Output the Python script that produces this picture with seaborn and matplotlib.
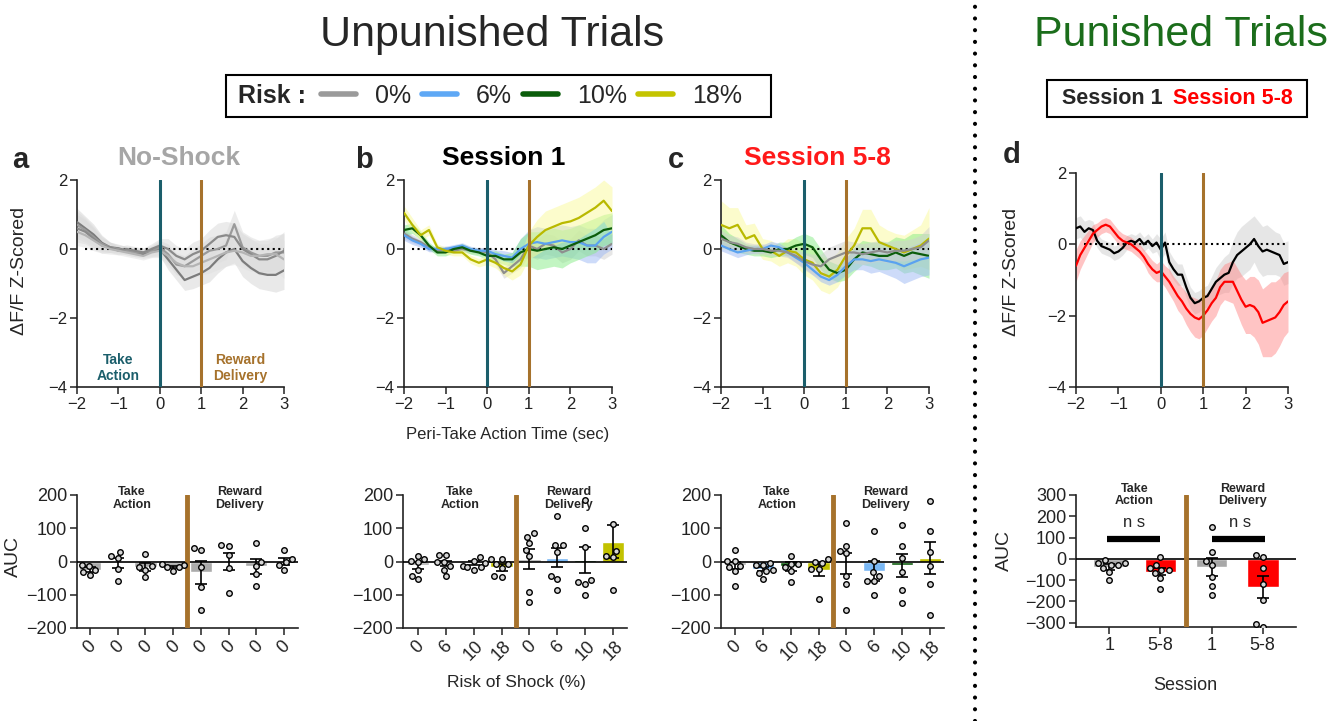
import numpy as np
import pandas as pd
import seaborn as sns
import matplotlib
matplotlib.use("Agg")
import matplotlib.pyplot as plt
from matplotlib.patches import Rectangle
from matplotlib.lines import Line2D

sns.set_theme(style="ticks")
plt.rcParams['font.family'] = ['Liberation Sans', 'DejaVu Sans']
plt.rcParams['axes.linewidth'] = 1.2
plt.rcParams['axes.edgecolor'] = '#222222'

W, H = 1344, 721
TEAL = '#1b5e6b'
BROWN = '#a6722c'

# ---------- peri-event traces (mean, sem) ----------
t_abc = np.round(np.linspace(-2, 3, 26), 2)   # 0.2 s bins
t_d = np.round(np.linspace(-2, 3, 51), 2)     # 0.1 s bins

# panel a: no-shock sessions (4 gray traces)
a_tr1 = [0.78, 0.6, 0.42, 0.18, 0.05, 0.02, -0.05, -0.1, -0.15, -0.08, 0.0, -0.3, -0.6, -0.9, -0.8, -0.7,
         -0.55, -0.3, -0.1, 0.0, -0.35, -0.55, -0.7, -0.75, -0.75, -0.62]
a_tr2 = [0.7, 0.55, 0.35, 0.15, 0.05, 0.0, -0.05, -0.1, -0.1, -0.05, 0.05, -0.15, -0.45, -0.5, -0.35, -0.2,
         -0.05, 0.0, 0.1, 0.72, 0.05, -0.1, -0.2, -0.2, -0.1, -0.1]
a_tr3 = [0.6, 0.5, 0.3, 0.1, 0.05, -0.05, 0.0, -0.05, -0.1, 0.0, 0.1, 0.0, -0.2, -0.3, -0.15, -0.05,
         0.15, 0.35, 0.4, 0.35, 0.0, -0.15, -0.3, -0.3, -0.2, -0.05]
a_tr4 = [0.5, 0.4, 0.25, 0.1, 0.0, -0.05, -0.1, -0.15, -0.2, -0.1, -0.05, -0.2, -0.4, -0.5, -0.5, -0.4,
         -0.3, -0.2, -0.1, -0.05, -0.1, -0.2, -0.2, -0.15, -0.15, -0.3]
a_sem = [0.4, 0.35, 0.3, 0.22, 0.15, 0.12, 0.12, 0.12, 0.12, 0.15, 0.2, 0.3, 0.3, 0.3, 0.35, 0.35,
         0.4, 0.4, 0.4, 0.4, 0.45, 0.45, 0.45, 0.45, 0.5, 0.55]

# panel b: session 1
b_gray = [0.45, 0.3, 0.2, 0.05, -0.05, 0.0, -0.05, 0.0, -0.05, -0.05, -0.1, -0.3, -0.7, -0.5, -0.3, 0.1,
          0.0, 0.15, 0.1, -0.1, 0.0, 0.25, 0.1, 0.1, 0.0, 0.15]
b_gray_sem = [0.15, 0.12, 0.1, 0.1, 0.08, 0.08, 0.08, 0.08, 0.08, 0.1, 0.12, 0.15, 0.15, 0.2, 0.25, 0.3,
              0.3, 0.3, 0.3, 0.3, 0.3, 0.3, 0.3, 0.3, 0.3, 0.3]
b_blue = [0.4, 0.25, 0.15, 0.0, 0.0, 0.0, 0.05, 0.1, 0.0, -0.05, -0.05, -0.15, -0.2, -0.25, 0.0, 0.15,
          0.2, 0.15, 0.2, 0.25, 0.2, 0.2, 0.1, 0.1, 0.35, 0.5]
b_blue_sem = [0.15, 0.12, 0.1, 0.08, 0.08, 0.08, 0.08, 0.08, 0.08, 0.08, 0.1, 0.12, 0.15, 0.15, 0.3, 0.4,
              0.45, 0.45, 0.45, 0.45, 0.45, 0.5, 0.5, 0.5, 0.5, 0.5]
b_green = [0.55, 0.6, 0.4, 0.1, -0.1, -0.1, 0.0, 0.05, -0.05, -0.1, -0.2, -0.2, -0.3, -0.3, -0.1, 0.0,
           -0.05, 0.0, 0.05, 0.0, 0.1, 0.2, 0.3, 0.4, 0.55, 0.6]
b_green_sem = [0.15, 0.15, 0.12, 0.1, 0.1, 0.1, 0.1, 0.1, 0.1, 0.1, 0.12, 0.15, 0.15, 0.2, 0.4, 0.5,
               0.55, 0.55, 0.55, 0.55, 0.5, 0.5, 0.5, 0.5, 0.45, 0.45]
b_yellow = [1.05, 0.7, 0.4, 0.55, 0.05, -0.05, -0.1, -0.1, -0.3, -0.4, -0.3, -0.4, -0.55, -0.65, -0.45, 0.1,
            0.35, 0.55, 0.65, 0.75, 0.8, 0.9, 1.05, 1.2, 1.4, 1.1]
b_yellow_sem = [0.2, 0.2, 0.15, 0.15, 0.1, 0.1, 0.1, 0.1, 0.12, 0.12, 0.15, 0.15, 0.2, 0.25, 0.3, 0.4,
                0.5, 0.55, 0.55, 0.55, 0.6, 0.6, 0.6, 0.6, 0.6, 0.7]

# panel c: sessions 5-8
c_gray = [0.3, 0.2, 0.15, 0.05, 0.0, 0.0, -0.05, -0.05, -0.1, -0.2, -0.35, -0.45, -0.5, -0.3, -0.2, -0.1,
          -0.1, -0.15, -0.1, -0.05, -0.1, -0.05, -0.05, 0.0, 0.05, 0.25]
c_gray_sem = [0.25, 0.2, 0.2, 0.15, 0.15, 0.15, 0.15, 0.15, 0.15, 0.2, 0.25, 0.3, 0.35, 0.35, 0.35, 0.35,
              0.3, 0.3, 0.3, 0.3, 0.3, 0.3, 0.3, 0.3, 0.35, 0.4]
c_blue = [0.1, 0.0, -0.1, -0.05, 0.0, 0.0, 0.1, 0.05, -0.1, -0.25, -0.4, -0.6, -0.8, -0.9, -0.75, -0.5,
          -0.3, -0.3, -0.35, -0.3, -0.35, -0.4, -0.5, -0.4, -0.3, -0.25]
c_blue_sem = [0.15, 0.15, 0.15, 0.12, 0.12, 0.12, 0.12, 0.12, 0.12, 0.15, 0.15, 0.15, 0.15, 0.15, 0.2, 0.25,
              0.3, 0.3, 0.35, 0.35, 0.4, 0.45, 0.5, 0.5, 0.5, 0.5]
c_green = [0.4, 0.2, 0.1, 0.0, -0.05, -0.05, -0.1, 0.0, 0.0, 0.1, 0.15, 0.05, -0.3, -0.6, -0.7, -0.6,
           -0.3, -0.1, -0.15, -0.2, -0.2, -0.1, -0.2, -0.1, -0.15, -0.2]
c_green_sem = [0.3, 0.25, 0.2, 0.15, 0.15, 0.15, 0.15, 0.2, 0.2, 0.25, 0.3, 0.3, 0.3, 0.25, 0.25, 0.3,
               0.35, 0.35, 0.35, 0.4, 0.4, 0.45, 0.5, 0.55, 0.6, 0.65]
c_yellow = [0.7, 0.6, 0.7, 0.3, 0.4, 0.0, -0.05, -0.2, -0.05, -0.1, -0.3, -0.4, -0.7, -0.8, -0.6, -0.2,
            0.1, 0.6, 0.6, 0.2, 0.1, 0.0, -0.1, 0.0, 0.1, 0.3]
c_yellow_sem = [0.7, 0.6, 0.5, 0.4, 0.35, 0.3, 0.3, 0.3, 0.35, 0.4, 0.45, 0.5, 0.5, 0.5, 0.5, 0.5,
                0.5, 0.55, 0.55, 0.5, 0.45, 0.45, 0.5, 0.55, 0.6, 0.9]

# panel d: punished trials
d_black = [0.45, 0.5, 0.35, 0.45, 0.4, 0.1, -0.05, -0.1, -0.15, -0.25,
           -0.2, -0.1, 0.05, 0.1, 0.05, 0.15, 0.0, 0.1, -0.05, 0.05,
           -0.15, 0.05, -0.5, -0.7, -0.85, -0.85, -1.2, -1.5, -1.65, -1.6,
           -1.5, -1.45, -1.25, -1.05, -0.95, -0.85, -0.8, -0.5, -0.3, -0.2,
           -0.1, 0.0, 0.15, -0.05, -0.2, -0.15, -0.2, -0.25, -0.3, -0.55, -0.5]
d_black_sem = [0.3, 0.3, 0.3, 0.25, 0.25, 0.2, 0.2, 0.2, 0.2, 0.2,
               0.2, 0.2, 0.2, 0.2, 0.2, 0.2, 0.2, 0.2, 0.2, 0.25,
               0.3, 0.3, 0.3, 0.3, 0.3, 0.3, 0.3, 0.3, 0.3, 0.3,
               0.3, 0.3, 0.35, 0.4, 0.45, 0.5, 0.55, 0.6, 0.65, 0.7,
               0.7, 0.7, 0.65, 0.7, 0.7, 0.7, 0.65, 0.6, 0.6, 0.6, 0.6]
d_red = [-0.6, -0.3, -0.1, 0.1, 0.3, 0.4, 0.5, 0.55, 0.5, 0.35,
         0.2, 0.1, 0.05, 0.0, -0.1, -0.2, -0.35, -0.55, -0.7, -0.8,
         -0.75, -0.9, -1.05, -1.25, -1.45, -1.6, -1.8, -1.95, -2.05, -2.1,
         -2.0, -1.85, -1.65, -1.5, -1.2, -1.05, -1.05, -1.05, -1.3, -1.55,
         -1.75, -1.7, -1.75, -1.9, -2.2, -2.15, -2.1, -2.05, -1.9, -1.7, -1.6]
d_red_sem = [0.45, 0.4, 0.35, 0.3, 0.25, 0.2, 0.2, 0.2, 0.2, 0.2,
             0.2, 0.2, 0.2, 0.2, 0.2, 0.2, 0.2, 0.25, 0.25, 0.25,
             0.3, 0.3, 0.35, 0.35, 0.4, 0.4, 0.45, 0.5, 0.55, 0.55,
             0.55, 0.5, 0.5, 0.5, 0.5, 0.5, 0.55, 0.6, 0.65, 0.7,
             0.75, 0.8, 0.85, 0.9, 0.95, 1.0, 1.05, 1.0, 0.95, 0.9, 0.85]

# ---------- AUC bar data ----------
abc_ids_a = ['TA-1', 'TA-2', 'TA-3', 'TA-4', 'RD-1', 'RD-2', 'RD-3', 'RD-4']
abc_ids = ['TA-0', 'TA-6', 'TA-10', 'TA-18', 'RD-0', 'RD-6', 'RD-10', 'RD-18']
a_labels = ['0'] * 8
bc_labels = ['0', '6', '10', '18', '0', '6', '10', '18']

a_means = [-25, -5, -17, -17, -33, 0, -15, 0]
a_sems = [7, 16, 12, 4, 36, 26, 22, 10]
a_points = [[-10, -40, -25, -13, -33], [30, 10, 17, -22, -58], [22, -25, -15, -18, -47],
            [-12, -28, -8, -18, -17], [35, 42, -18, -78, -145], [47, 50, 20, -20, -95],
            [57, 0, -15, -38, -75], [35, 7, -10, -3, -25]]

b_means = [-12, -5, -5, -18, 7, 12, 5, 60]
b_sems = [12, 8, 6, 10, 31, 28, 40, 50]
b_points = [[-3, 7, 18, 3, -27, -43, -53], [20, 20, -2, -2, -15, -25, -45], [15, 3, -5, -13, -17, -17, -25],
            [7, 7, -8, -20, -8, -47, -43], [75, 85, 55, 35, 17, -93, -123], [137, 50, 50, 30, -53, -43, -85],
            [185, 100, 43, -67, -55, -63, -100], [112, 32, 13, 18, -87]]

c_means = [-12, -22, -15, -27, -5, -28, -12, 10]
c_sems = [10, 6, 14, 18, 32, 30, 35, 49]
c_points = [[35, 3, 3, -13, -17, -28, -75], [-5, -10, -10, -25, -35, -30, -52], [18, -18, -8, -8, -30, -62],
            [8, -5, -3, -22, -23, -112], [115, 47, 25, 33, -45, -67, -147], [93, 3, -45, -33, -60, -60, -100],
            [110, 48, 10, -32, -87, -125], [183, 92, 30, -13, -67, -160]]

d_ids = ['TA-s1', 'TA-s58', 'RD-s1', 'RD-s58']
d_labels = ['1', '5-8', '1', '5-8']
d_means = [-38, -60, -38, -133]
d_sems = [12, 16, 44, 53]
d_points = [[-5, -19, -19, -28, -28, -44, -60, -99], [11, -28, -45, -50, -50, -89, -67, -143],
            [152, 31, -27, -8, -86, -129, -170], [11, 16, -44, -118, -193, -318, -306]]

risk_names = ['0%', '6%', '10%', '18%']
risk_line = ['#8e8e8e', '#5aa2f0', '#0b5d0b', '#b9b900']
risk_band = ['#cfcfcf', '#9cb8f5', '#86ec86', '#fafa9a']
risk_bar = ['#b0b0b0', '#7ab8f5', '#0d5e0d', '#c2c200'] * 2


def px_rect(l, t, r, b):
    return [l / W, 1 - b / H, (r - l) / W, (b - t) / H]


def style_ax(ax, tick_size):
    ax.spines[['top', 'right']].set_visible(False)
    ax.tick_params(direction='out', length=5, width=1.1, colors='#222222', labelsize=tick_size, pad=2)


def trace_panel(ax, time, traces):
    rows = []
    for name, mean, sem, lc, bc in traces:
        m, s = np.array(mean), np.array(sem)
        ax.fill_between(time, m - s, m + s, color=bc, alpha=0.5, lw=0, zorder=1)
        rows.append(pd.DataFrame({'time': time, 'dff': m, 'trace': name}))
    df = pd.concat(rows)
    pal = {tr[0]: tr[3] for tr in traces}
    sns.lineplot(data=df, x='time', y='dff', hue='trace', palette=pal, linewidth=1.6,
                 legend=False, errorbar=None, ax=ax, zorder=3)
    ax.plot([-1.8, 3], [0, 0], ls=':', color='black', lw=1.5, zorder=2)
    ax.axvline(0, color=TEAL, lw=2.2, zorder=4)
    ax.axvline(1, color=BROWN, lw=2.2, zorder=4)
    ax.set(xlim=(-2, 3), ylim=(-4, 2), xticks=range(-2, 4), yticks=[-4, -2, 0, 2], xlabel='', ylabel='')
    style_ax(ax, 12)


def auc_panel(ax, ids, labels, points, means, sems, colors, width, rot, ylim, yticks, xlim):
    bars = pd.DataFrame({'bar': ids, 'auc': means})
    sns.barplot(data=bars, x='bar', y='auc', hue='bar', order=ids, hue_order=ids,
                palette=dict(zip(ids, colors)), width=width, saturation=1, errorbar=None,
                legend=False, ax=ax)
    ax.errorbar(range(len(ids)), means, yerr=sems, fmt='none', ecolor='black',
                elinewidth=1.2, capsize=4, capthick=1.2, zorder=4)
    pts = pd.DataFrame([(b, v) for b, vals in zip(ids, points) for v in vals], columns=['bar', 'auc'])
    sns.swarmplot(data=pts, x='bar', y='auc', order=ids, color='#d6d6d6', edgecolor='black',
                  linewidth=1, size=4, ax=ax, zorder=5)
    ax.axhline(0, color='black', lw=1.2, zorder=3)
    ax.axvline(len(ids) / 2 - 0.5, color=BROWN, lw=3.5, zorder=3)
    ax.set(xlim=xlim, ylim=ylim, yticks=yticks, xlabel='', ylabel='')
    ax.set_xticks(range(len(ids)))
    ax.set_xticklabels(labels, rotation=rot, fontsize=14)
    style_ax(ax, 13)


fig = plt.figure(figsize=(W / 100, H / 100), dpi=100)

# trace panels
ax_a = fig.add_axes(px_rect(77, 180, 284, 387))
trace_panel(ax_a, t_abc, [('n1', a_tr1, a_sem, '#7c7c7c', '#d4d4d4'),
                          ('n2', a_tr2, a_sem, '#9a9a9a', '#dadada'),
                          ('n3', a_tr3, a_sem, '#8a8a8a', '#d8d8d8'),
                          ('n4', a_tr4, a_sem, '#b4b4b4', '#e0e0e0')])
ax_a.text(-1.0, -3.45, 'Take\nAction', color=TEAL, fontsize=10, fontweight='bold',
          ha='center', va='center', linespacing=1.1)
ax_a.text(1.95, -3.45, 'Reward\nDelivery', color=BROWN, fontsize=10, fontweight='bold',
          ha='center', va='center', linespacing=1.1)
ax_a.set_ylabel('ΔF/F Z-Scored', fontsize=14)
ax_a.yaxis.set_label_coords(-0.237, 0.56)

ax_b = fig.add_axes(px_rect(404, 180, 612, 387))
trace_panel(ax_b, t_abc, [('0%', b_gray, b_gray_sem, risk_line[0], risk_band[0]),
                          ('6%', b_blue, b_blue_sem, risk_line[1], risk_band[1]),
                          ('10%', b_green, b_green_sem, risk_line[2], risk_band[2]),
                          ('18%', b_yellow, b_yellow_sem, risk_line[3], risk_band[3])])

ax_c = fig.add_axes(px_rect(721, 180, 929, 387))
trace_panel(ax_c, t_abc, [('18%', c_yellow, c_yellow_sem, risk_line[3], risk_band[3]),
                          ('10%', c_green, c_green_sem, risk_line[2], risk_band[2]),
                          ('6%', c_blue, c_blue_sem, risk_line[1], risk_band[1]),
                          ('0%', c_gray, c_gray_sem, risk_line[0], risk_band[0])])

ax_d = fig.add_axes(px_rect(1076, 173, 1288, 387))
trace_panel(ax_d, t_d, [('Session 1', d_black, d_black_sem, 'black', '#cfcfcf'),
                        ('Session 5-8', d_red, d_red_sem, '#ff0000', '#ff8a8a')])
ax_d.set_ylabel('ΔF/F Z-Scored', fontsize=14)
ax_d.yaxis.set_label_coords(-0.264, 0.54)

# AUC panels
bx_a = fig.add_axes(px_rect(77, 495, 298, 628))
auc_panel(bx_a, abc_ids_a, a_labels, a_points, a_means, a_sems, ['#ababab'] * 8, 0.8, 45,
          (-200, 200), [-200, -100, 0, 100, 200], (-0.47, 7.5))
bx_a.set_ylabel('AUC', fontsize=14)
bx_a.yaxis.set_label_coords(-0.25, 0.54)

bx_b = fig.add_axes(px_rect(403, 495, 627, 628))
auc_panel(bx_b, abc_ids, bc_labels, b_points, b_means, b_sems, risk_bar, 0.8, 45,
          (-200, 200), [-200, -100, 0, 100, 200], (-0.54, 7.5))

bx_c = fig.add_axes(px_rect(721, 495, 944, 628))
auc_panel(bx_c, abc_ids, bc_labels, c_points, c_means, c_sems, risk_bar, 0.8, 45,
          (-200, 200), [-200, -100, 0, 100, 200], (-0.5, 7.5))

for bx in (bx_a, bx_b, bx_c):
    bx.text(1.5, 190, 'Take\nAction', fontsize=9, fontweight='bold', ha='center', va='center', linespacing=1.1)
    bx.text(5.4, 190, 'Reward\nDelivery', fontsize=9, fontweight='bold', ha='center', va='center', linespacing=1.1)

bx_d = fig.add_axes(px_rect(1076, 495, 1296, 627))
auc_panel(bx_d, d_ids, d_labels, d_points, d_means, d_sems, ['#a8a8a8', '#ff0000', '#a8a8a8', '#ff0000'],
          0.62, 0, (-320, 300), [-300, -200, -100, 0, 100, 200, 300], (-0.65, 3.65))
bx_d.set_ylabel('AUC', fontsize=14)
bx_d.yaxis.set_label_coords(-0.286, 0.58)
bx_d.text(0.49, 300, 'Take\nAction', fontsize=9, fontweight='bold', ha='center', va='center', linespacing=1.1)
bx_d.text(2.6, 300, 'Reward\nDelivery', fontsize=9, fontweight='bold', ha='center', va='center', linespacing=1.1)
for x0, x1, xt in [(-0.05, 1.0, 0.48), (2.0, 3.05, 2.56)]:
    bx_d.plot([x0, x1], [92, 92], color='black', lw=4.5, solid_capstyle='butt', zorder=6)
    bx_d.text(xt, 172, 'n s', fontsize=12, ha='center', va='center')

# headings and labels
fig.text(492 / W, 1 - 35 / H, 'Unpunished Trials', fontsize=31, ha='center', va='center')
fig.text(1181 / W, 1 - 35 / H, 'Punished Trials', fontsize=31, color='#1b6d1b', ha='center', va='center')
for letter, x, y in [('a', 12, 160), ('b', 355, 160), ('c', 668, 160), ('d', 1003, 155)]:
    fig.text(x / W, 1 - y / H, letter, fontsize=21, fontweight='bold', ha='left', va='center')
fig.text(179 / W, 1 - 158 / H, 'No-Shock', fontsize=19, fontweight='bold', color='#a6a6a6', ha='center', va='center')
fig.text(504 / W, 1 - 158 / H, 'Session 1', fontsize=19, fontweight='bold', color='black', ha='center', va='center')
fig.text(817 / W, 1 - 158 / H, 'Session 5-8', fontsize=19, fontweight='bold', color='#ff1a1a', ha='center', va='center')
fig.text(508 / W, 1 - 435 / H, 'Peri-Take Action Time (sec)', fontsize=12, ha='center', va='center')
fig.text(516 / W, 1 - 683 / H, 'Risk of Shock (%)', fontsize=12.5, ha='center', va='center')
fig.text(1185 / W, 1 - 685 / H, 'Session', fontsize=13, ha='center', va='center')

# risk legend
fig.text(238 / W, 1 - 96 / H, 'Risk :', fontsize=18, fontweight='bold', ha='left', va='center')
handles = [Line2D([0], [0], color=c, lw=4) for c in ['#9a9a9a', '#5ea8f5', '#0b5d0b', '#c4c400']]
fig.legend(handles, risk_names, loc='center left', bbox_to_anchor=(321 / W, 1 - 96 / H), ncol=4,
           frameon=False, fontsize=18, handlelength=1.4, handletextpad=0.76, columnspacing=0.44,
           borderpad=0, borderaxespad=0)
fig.add_artist(Rectangle((226 / W, 1 - 117 / H), (771 - 226) / W, 42 / H, transform=fig.transFigure,
                         fill=False, lw=1.5, edgecolor='black'))

# session legend
fig.text(1062 / W, 1 - 99 / H, 'Session 1', fontsize=15.5, fontweight='bold', ha='left', va='center')
fig.text(1173 / W, 1 - 99 / H, 'Session 5-8', fontsize=15.5, fontweight='bold', color='#ff0000', ha='left', va='center')
fig.add_artist(Rectangle((1047 / W, 1 - 117 / H), 260 / W, 37 / H, transform=fig.transFigure,
                         fill=False, lw=1.5, edgecolor='black'))

# dotted divider between unpunished and punished
fig.add_artist(Line2D([975 / W, 975 / W], [0, 1], transform=fig.transFigure, color='black', lw=3,
                      linestyle=(0, (0.01, 2.8)), dash_capstyle='round'))

fig.savefig('out.png', dpi=100)
